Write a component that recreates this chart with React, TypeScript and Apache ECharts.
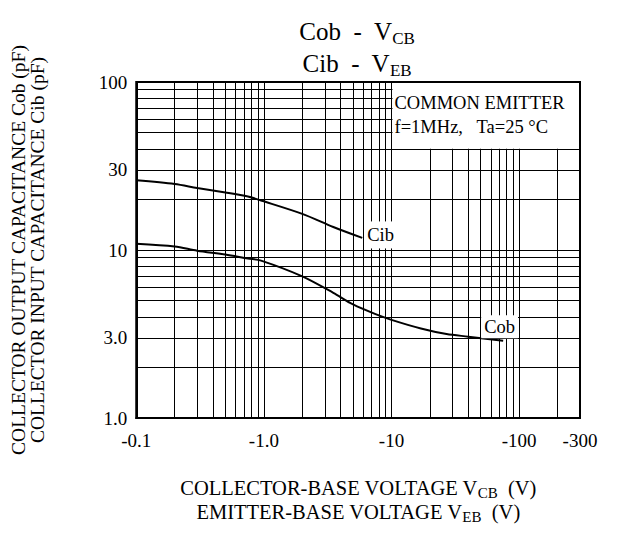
import React, { useEffect, useRef } from 'react';
import * as echarts from 'echarts';

// Cib - VEB curve (|V| in volts, capacitance in pF)
const cibVoltage = [0.1, 0.2, 0.3, 0.5, 0.75, 0.95, 2.0, 3.5, 5.9];
const cibCap = [26, 24.7, 23.4, 22.0, 20.8, 19.7, 16.4, 13.7, 11.8];

// Cob - VCB curve
const cobVoltage = [0.1, 0.2, 0.3, 0.5, 0.75, 0.95, 2, 3.5, 5, 7.5, 10, 17, 27, 40, 75];
const cobCap = [10.9, 10.5, 9.9, 9.4, 8.9, 8.65, 6.97, 5.56, 4.74, 4.15, 3.84, 3.41, 3.16, 3.05, 2.88];

// axis ticks
const xTickValues = [0.1, 1, 10, 100, 300];
const xTickLabels = ['-0.1', '-1.0', '-10', '-100', '-300'];
const yTickValues = [1, 3, 10, 30, 100];
const yTickLabels = ['1.0', '3.0', '10', '30', '100'];

// log grid lines
const xGridValues = [
  0.2, 0.3, 0.4, 0.5, 0.6, 0.7, 0.8, 0.9,
  1, 2, 3, 4, 5, 6, 7, 8, 9,
  10, 20, 30, 40, 50, 60, 70, 80, 90,
  100, 200,
];
const yGridValues = [2, 3, 4, 5, 6, 7, 8, 9, 10, 20, 30, 40, 50, 60, 70, 80, 90];

// annotation box corners (data units)
const boxFrom = [10, 100];
const boxTo = [300, 40];

const FONT = "'Liberation Serif', 'Times New Roman', serif";

function labelFor(values: number[], labels: string[], v: number) {
  for (let i = 0; i < values.length; i++) {
    if (Math.abs(Math.log10(values[i]) - Math.log10(v)) < 1e-6) return labels[i];
  }
  return '';
}

export default function App() {
  const ref = useRef<HTMLDivElement>(null);
  useEffect(() => {
    if (!ref.current) return;
    const chart = echarts.init(ref.current, undefined, { renderer: 'svg' });
    const option: any = {
      animation: false,
      backgroundColor: '#fff',
      title: {
        text: '{a|Cob  -  V}{b|CB}\n{a|Cib  -  V}{b|EB}',
        left: 352,
        top: 10,
        textAlign: 'center',
        textStyle: {
          fontWeight: 'normal',
          fontSize: 25,
          fontFamily: FONT,
          lineHeight: 32,
          rich: {
            a: { fontSize: 25, fontWeight: 'normal', fontFamily: FONT, color: '#000', lineHeight: 32 },
            b: { fontSize: 17, fontWeight: 'normal', fontFamily: FONT, color: '#000', lineHeight: 17, verticalAlign: 'bottom' },
          },
        },
      },
      grid: {
        left: 136, right: 44, top: 82, bottom: 120,
        show: true, borderColor: '#000', borderWidth: 2,
      },
      xAxis: {
        type: 'log', logBase: 10, min: 0.1, max: 300,
        axisLine: { show: true, lineStyle: { color: '#000', width: 2 } },
        axisTick: { show: false },
        splitLine: { show: false },
        axisLabel: {
          customValues: xTickValues,
          formatter: (v: number) => labelFor(xTickValues, xTickLabels, v),
          fontSize: 19, color: '#000', fontFamily: FONT, margin: 13,
        },
        name: '{n|COLLECTOR-BASE VOLTAGE V}{s|CB}{n|  (V)}\n{n|EMITTER-BASE VOLTAGE V}{s|EB}{n|  (V)}',
        nameLocation: 'middle',
        nameGap: 58,
        nameTextStyle: {
          align: 'center',
          rich: {
            n: { fontSize: 20.5, fontFamily: FONT, color: '#000', lineHeight: 24 },
            s: { fontSize: 15, fontFamily: FONT, color: '#000', lineHeight: 14, verticalAlign: 'bottom' },
          },
        },
      },
      yAxis: {
        type: 'log', logBase: 10, min: 1, max: 100,
        axisLine: { show: true, lineStyle: { color: '#000', width: 2 } },
        axisTick: { show: false },
        splitLine: { show: false },
        axisLabel: {
          customValues: yTickValues,
          formatter: (v: number) => labelFor(yTickValues, yTickLabels, v),
          fontSize: 19, color: '#000', fontFamily: FONT, margin: 9,
        },
        name: 'COLLECTOR OUTPUT CAPACITANCE Cob (pF)\nCOLLECTOR INPUT CAPACITANCE Cib (pF)',
        nameLocation: 'middle',
        nameGap: 89,
        nameTextStyle: { fontSize: 19.5, fontFamily: FONT, color: '#000', lineHeight: 19.5, align: 'center' },
      },
      series: [
        {
          type: 'line',
          name: 'grid',
          data: [],
          silent: true,
          markLine: {
            silent: true,
            symbol: ['none', 'none'],
            label: { show: false },
            lineStyle: { color: '#000', width: 1, type: 'solid' },
            emphasis: { disabled: true },
            data: [
              ...xGridValues.map((v) => ({ xAxis: v })),
              ...yGridValues.map((v) => ({ yAxis: v })),
            ],
          },
        },
        {
          type: 'line',
          name: 'Cib',
          data: cibVoltage.map((v, i) => [v, cibCap[i]]),
          showSymbol: false,
          smooth: 0.3,
          z: 5,
          lineStyle: { color: '#000', width: 2 },
          endLabel: {
            show: true, formatter: 'Cib', color: '#000', fontSize: 18.5, fontFamily: FONT,
            backgroundColor: '#fff', padding: [4, 2, 4, 2], distance: 3, offset: [0, -3],
          },
        },
        {
          type: 'line',
          name: 'Cob',
          data: cobVoltage.map((v, i) => [v, cobCap[i]]),
          showSymbol: false,
          smooth: 0.3,
          z: 5,
          lineStyle: { color: '#000', width: 2 },
          endLabel: {
            show: true, formatter: 'Cob', color: '#000', fontSize: 18.5, fontFamily: FONT,
            backgroundColor: '#fff', padding: [2, 3, 2, 3], distance: 3, offset: [-25, -14],
          },
        },
      ],
    };
    chart.setOption(option);
    const p1 = chart.convertToPixel({ gridIndex: 0 }, boxFrom) as number[];
    const p2 = chart.convertToPixel({ gridIndex: 0 }, boxTo) as number[];
    const bx = Math.min(p1[0], p2[0]) + 1;
    const by = Math.min(p1[1], p2[1]) + 1;
    const bw = Math.abs(p2[0] - p1[0]) - 2;
    const bh = Math.abs(p2[1] - p1[1]) - 1;
    chart.setOption({
      graphic: [
        { type: 'rect', z: 50, shape: { x: bx, y: by, width: bw, height: bh }, style: { fill: '#fff' }, silent: true },
        { type: 'text', z: 51, x: bx + 2, y: by + 20, style: { text: 'COMMON EMITTER', fontSize: 18.5, fontFamily: FONT, fill: '#000', textVerticalAlign: 'middle' } },
        { type: 'text', z: 51, x: bx + 2, y: by + 44, style: { text: 'f=1MHz,', fontSize: 18.5, fontFamily: FONT, fill: '#000', textVerticalAlign: 'middle' } },
        { type: 'text', z: 51, x: bx + 84, y: by + 44, style: { text: 'Ta=25 °C', fontSize: 18.5, fontFamily: FONT, fill: '#000', textVerticalAlign: 'middle' } },
      ],
    });
    return () => chart.dispose();
  }, []);
  return <div ref={ref} style={{ width: 624, height: 538, position: 'absolute', left: 0, top: 0 }} />;
}
